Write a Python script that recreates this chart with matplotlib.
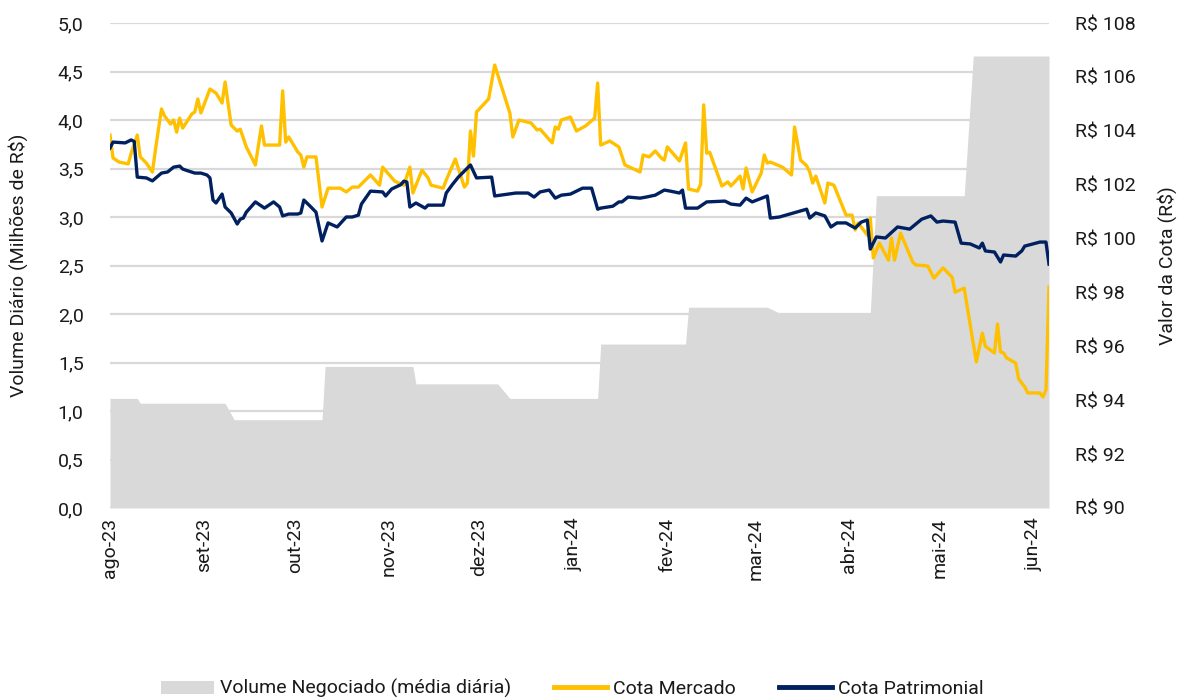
import matplotlib
matplotlib.use("Agg")
import matplotlib.pyplot as plt
import pandas as pd
from matplotlib.patches import Patch
from matplotlib.lines import Line2D

plt.rcParams['font.family'] = ['Roboto', 'DejaVu Sans']

START = pd.Timestamp('2023-08-01')

# Volume (média diária, milhões R$) - breakpoints (days since 2023-08-01)
vol_days = [0, 9, 10, 38, 41, 70, 71, 100, 101, 128, 132, 161, 162, 190, 191, 217, 221, 251, 253, 282, 285, 310]
vol_vals = [1.13, 1.13, 1.08, 1.08, 0.91, 0.91, 1.46, 1.46, 1.28, 1.28, 1.13, 1.13, 1.69, 1.69, 2.07, 2.07, 2.01, 2.01, 3.22, 3.22, 4.66, 4.66]

# Cota Patrimonial
pat_days = [0, 1, 5, 7, 8, 9, 12, 14, 17, 19, 21, 23, 24, 25, 28, 30, 32, 33, 34, 35, 37, 38, 40, 42, 43, 44, 45, 48,
            51, 54, 56, 57, 59, 62, 63, 64, 66, 68, 70, 72, 75, 78, 80, 82, 83, 86, 90, 91, 93, 96, 97, 98, 99, 101,
            104, 105, 110, 111, 113, 115, 119, 121, 126, 127, 134, 138, 140, 142, 145, 147, 149, 152, 156, 159, 161,
            162, 166, 168, 169, 171, 175, 177, 180, 183, 185, 188, 189, 190, 194, 197, 203, 205, 208, 210, 212, 217,
            218, 221, 230, 231, 233, 236, 238, 240, 243, 246, 248, 250, 251, 253, 256, 260, 264, 268, 271, 273, 275,
            279, 281, 284, 287, 288, 289, 292, 294, 295, 299, 301, 302, 307, 309, 310]
pat_vals = [103.36, 103.58, 103.55, 103.66, 103.60, 102.28, 102.25, 102.14, 102.43, 102.47, 102.65, 102.69, 102.58,
            102.54, 102.43, 102.43, 102.36, 102.25, 101.43, 101.32, 101.65, 101.17, 100.95, 100.54, 100.72, 100.76,
            100.98, 101.36, 101.13, 101.36, 101.17, 100.84, 100.91, 100.91, 100.95, 101.43, 101.21, 100.98, 99.91,
            100.58, 100.43, 100.80, 100.80, 100.87, 101.28, 101.76, 101.73, 101.58, 101.84, 102.00, 102.13, 102.10,
            101.17, 101.32, 101.13, 101.24, 101.24, 101.69, 102.00, 102.28, 102.73, 102.25, 102.28, 101.58, 101.69,
            101.69, 101.54, 101.73, 101.80, 101.50, 101.61, 101.65, 101.87, 101.87, 101.09, 101.13, 101.20, 101.36,
            101.36, 101.54, 101.50, 101.54, 101.61, 101.80, 101.76, 101.69, 101.80, 101.13, 101.13, 101.36, 101.39,
            101.28, 101.24, 101.50, 101.36, 101.58, 100.76, 100.80, 101.09, 100.76, 100.95, 100.84, 100.43, 100.58,
            100.58, 100.39, 100.61, 100.69, 99.61, 100.06, 100.02, 100.43, 100.35, 100.72, 100.84, 100.61, 100.65,
            100.61, 99.83, 99.80, 99.65, 99.83, 99.54, 99.50, 99.13, 99.39, 99.35, 99.54, 99.72, 99.87, 99.87, 99.05]

# Cota Mercado
mer_days = [0, 1, 3, 6, 7, 9, 10, 12, 14, 15, 17, 18, 20, 21, 22, 23, 24, 27, 28, 29, 30, 33, 35, 37, 38, 40, 42, 43,
            45, 48, 50, 51, 56, 57, 58, 59, 62, 63, 64, 65, 68, 70, 72, 76, 78, 80, 82, 86, 89, 90, 94, 97, 99, 100,
            103, 105, 106, 110, 111, 114, 117, 118, 119, 120, 121, 125, 127, 132, 133, 135, 139, 141, 142, 146, 147,
            148, 149, 152, 154, 157, 160, 161, 162, 165, 168, 170, 175, 176, 178, 180, 182, 183, 184, 188, 190, 191,
            194, 195, 196, 197, 198, 202, 204, 205, 208, 209, 210, 212, 215, 216, 217, 218, 222, 225, 226, 228, 230,
            231, 232, 233, 236, 237, 239, 243, 245, 246, 247, 250, 251, 252, 254, 257, 258, 259, 261, 265, 266, 270,
            272, 275, 278, 279, 282, 286, 288, 289, 292, 293, 294, 295, 296, 299, 300, 302, 303, 307, 308, 309, 310]
mer_vals = [103.84, 102.99, 102.84, 102.77, 103.17, 103.84, 103.03, 102.80, 102.47, 103.29, 104.81, 104.55, 104.25,
            104.40, 103.95, 104.47, 104.10, 104.62, 104.70, 105.18, 104.66, 105.55, 105.40, 105.03, 105.81, 104.21,
            103.99, 104.06, 103.40, 102.73, 104.18, 103.47, 103.47, 105.48, 103.58, 103.77, 103.21, 103.10, 102.65,
            103.03, 103.03, 101.17, 101.87, 101.87, 101.73, 101.91, 101.91, 102.36, 101.98, 102.65, 102.13, 101.98,
            102.65, 101.69, 102.54, 102.25, 101.98, 101.87, 102.17, 102.95, 101.91, 102.06, 103.99, 103.06, 104.70,
            105.18, 106.44, 104.66, 103.77, 104.40, 104.29, 104.03, 104.06, 103.55, 104.14, 104.06, 104.40, 104.51,
            103.99, 104.18, 104.47, 105.77, 103.47, 103.62, 103.40, 102.73, 102.47, 103.10, 103.03, 103.25, 102.99,
            102.91, 103.40, 102.88, 103.55, 101.84, 101.76, 102.02, 104.96, 103.17, 103.20, 101.95, 102.10, 101.95,
            102.32, 101.84, 102.62, 101.73, 102.43, 103.10, 102.80, 102.84, 102.65, 102.36, 104.14, 102.91, 102.70,
            102.47, 102.06, 102.32, 101.32, 102.06, 101.98, 100.87, 100.87, 100.32, 100.58, 100.13, 100.76, 99.28,
            99.83, 99.20, 100.02, 99.20, 100.20, 99.13, 99.02, 98.98, 98.53, 98.91, 98.57, 98.01, 98.16, 95.42,
            96.49, 96.00, 95.75, 96.83, 95.79, 95.75, 95.57, 95.38, 94.79, 94.49, 94.27, 94.27, 94.12, 94.38, 98.20]

month_ticks = ['2023-08-01', '2023-09-01', '2023-10-01', '2023-11-01', '2023-12-01', '2024-01-01',
               '2024-02-01', '2024-03-01', '2024-04-01', '2024-05-01', '2024-06-01']
month_labels = ['ago-23', 'set-23', 'out-23', 'nov-23', 'dez-23', 'jan-24',
                'fev-24', 'mar-24', 'abr-24', 'mai-24', 'jun-24']
left_ticks = [0, 0.5, 1.0, 1.5, 2.0, 2.5, 3.0, 3.5, 4.0, 4.5, 5.0]
right_ticks = [90, 92, 94, 96, 98, 100, 102, 104, 106, 108]


def to_dates(days):
    return START + pd.to_timedelta(days, unit='D')


GRAY = '#D9D9D9'
GOLD = '#FFC000'
NAVY = '#002060'
TXT = '#1a1a1a'
FS = 14

fig = plt.figure(figsize=(11.78, 7.0), dpi=100)
ax = fig.add_axes([110 / 1178, 1 - 508 / 700, (1049 - 110) / 1178, (508 - 23) / 700])
ax2 = ax.twinx()

vd = to_dates(vol_days)
ax.fill_between(vd, 0, vol_vals, color=GRAY, linewidth=0, zorder=2)
ax.set_ylim(0, 5)
ax.set_yticks(left_ticks)
ax.set_yticklabels([f"{v:.1f}".replace('.', ',') for v in left_ticks])
ax.set_axisbelow(True)
ax.yaxis.grid(True, color='#D9D9D9', linewidth=1.6, zorder=0)
ax.set_xlim(to_dates([0])[0], to_dates([310])[0])
ax.set_xticks(pd.to_datetime(month_ticks))
ax.set_xticklabels(month_labels, rotation=90, fontsize=FS, color=TXT)
ax.set_ylabel('Volume Diário (Milhões de R$)', fontsize=FS, color=TXT)
ax.yaxis.set_label_coords(-0.087, 0.5)

ax2.plot(to_dates(mer_days), mer_vals, color=GOLD, linewidth=2.4, zorder=3)
ax2.plot(to_dates(pat_days), pat_vals, color=NAVY, linewidth=2.4, zorder=4)
ax2.set_ylim(90, 108)
ax2.set_yticks(right_ticks)
ax2.set_yticklabels([f"R$ {v}" for v in right_ticks])
ax2.set_ylabel('Valor da Cota (R$)', fontsize=FS, color=TXT)
ax2.yaxis.set_label_coords(1.115, 0.5)

for a in (ax, ax2):
    for s in a.spines.values():
        s.set_visible(False)
    a.tick_params(axis='both', length=0, labelsize=FS, colors=TXT)
ax.tick_params(axis='y', pad=19)
ax.tick_params(axis='x', pad=7)
ax2.tick_params(axis='y', pad=19)

handles = [Patch(facecolor=GRAY, edgecolor='none'),
           Line2D([0], [0], color=GOLD, linewidth=3.5),
           Line2D([0], [0], color=NAVY, linewidth=3.5)]
labels = ['Volume Negociado (média diária)', 'Cota Mercado', 'Cota Patrimonial']
fig.legend(handles, labels, loc='center', bbox_to_anchor=(0.4856, 0.016), ncol=3, frameon=False,
           fontsize=FS, handlelength=2.75, handletextpad=0.3, columnspacing=2.2, labelcolor=TXT,
           borderpad=0, borderaxespad=0)

fig.savefig('out.png', dpi=100)
